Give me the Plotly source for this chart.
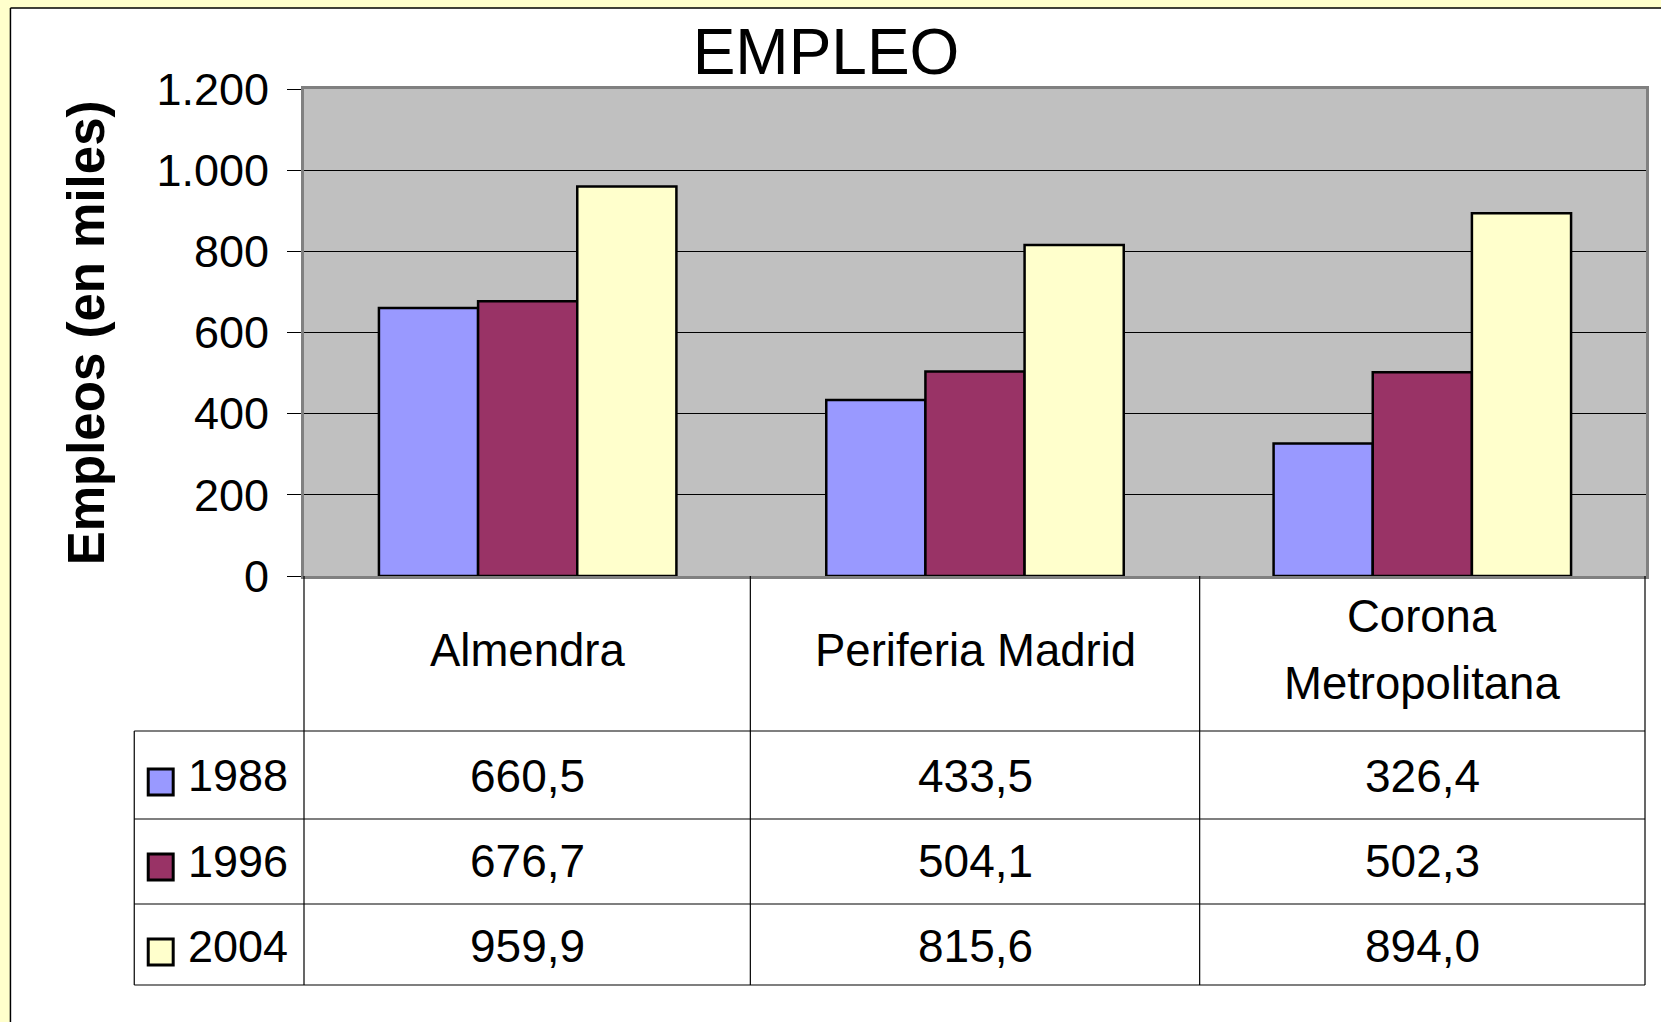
import plotly.graph_objects as go

categories = ["Almendra", "Periferia Madrid", "Corona Metropolitana"]
category_labels = ["Almendra", "Periferia Madrid", "Corona\nMetropolitana"]
years = ["1988", "1996", "2004"]
empleo_1988 = [660.5, 433.5, 326.4]
empleo_1996 = [676.7, 504.1, 502.3]
empleo_2004 = [959.9, 815.6, 894.0]
series = [empleo_1988, empleo_1996, empleo_2004]
colors = ["#9999FF", "#993366", "#FFFFCC"]
y_ticks = [0, 200, 400, 600, 800, 1000, 1200]

W, H = 1661, 1022
L, R, T, B = 304, 13, 89, 446
PW, PH = W - L - R, H - T - B
FONT = "Liberation Sans, Arial, sans-serif"


# pixel -> paper coords
def px(x):
    return (x - L) / PW


def py(y):
    return (H - B - y) / PH


fig = go.Figure()
for year, vals, c in zip(years, series, colors):
    fig.add_trace(go.Bar(
        name=year, x=categories, y=vals,
        marker=dict(color=c, line=dict(color="black", width=2.5)),
        showlegend=False,
    ))

shapes = []
# yellow frame outside the white chart area
shapes.append(dict(type="rect", xref="paper", yref="paper", x0=px(-5), x1=px(10), y0=py(H + 5), y1=py(-5),
                   fillcolor="#FFFFCC", line_width=0, layer="below"))
shapes.append(dict(type="rect", xref="paper", yref="paper", x0=px(-5), x1=px(W + 5), y0=py(8), y1=py(-5),
                   fillcolor="#FFFFCC", line_width=0, layer="below"))
shapes.append(dict(type="line", xref="paper", yref="paper", x0=px(10), x1=px(W + 5), y0=py(8), y1=py(8),
                   line=dict(color="black", width=1.5)))
shapes.append(dict(type="line", xref="paper", yref="paper", x0=px(10), x1=px(10), y0=py(8), y1=py(H + 5),
                   line=dict(color="black", width=1.5)))

# data table grid
tbl = dict(color="black", width=1.2)
for x in [304, 751, 1201, 1647]:
    shapes.append(dict(type="line", xref="paper", yref="paper", x0=px(x), x1=px(x), y0=py(576), y1=py(985), line=tbl))
shapes.append(dict(type="line", xref="paper", yref="paper", x0=px(134), x1=px(134), y0=py(731), y1=py(985), line=tbl))
for y in [731, 819, 904, 985]:
    shapes.append(dict(type="line", xref="paper", yref="paper", x0=px(134), x1=px(1647), y0=py(y), y1=py(y), line=tbl))

row_centers = [776, 861, 946]
annotations = []
for i, (year, vals, c) in enumerate(zip(years, series, colors)):
    yc = row_centers[i]
    shapes.append(dict(type="rect", xref="paper", yref="paper", x0=px(148), x1=px(173),
                       y0=py(yc + 19), y1=py(yc - 7), fillcolor=c, line=dict(color="black", width=3)))
    annotations.append(dict(text=year, xref="paper", yref="paper", x=px(186), y=py(yc),
                            xanchor="left", yanchor="middle", showarrow=False,
                            font=dict(size=45, color="black", family=FONT)))
    for cat, v in zip(categories, vals):
        annotations.append(dict(text=f"{v:.1f}".replace(".", ","), xref="x", yref="paper", x=cat, y=py(yc),
                                xanchor="center", yanchor="middle", showarrow=False,
                                font=dict(size=46, color="black", family=FONT)))

# category labels inside the table header row
for cat, lab in zip(categories, category_labels):
    lines = lab.split("\n")
    gap = 67
    start = 650 - gap * (len(lines) - 1) / 2
    for k, line in enumerate(lines):
        annotations.append(dict(text=line, xref="x", yref="paper", x=cat, y=py(start + k * gap),
                                xanchor="center", yanchor="middle", showarrow=False,
                                font=dict(size=45.5, color="black", family=FONT)))

annotations.append(dict(text="<b>Empleos (en miles)</b>", xref="paper", yref="paper", x=px(86), y=py(333),
                        xanchor="center", yanchor="middle", textangle=-90, showarrow=False,
                        font=dict(size=51, color="black", family=FONT)))

fig.update_layout(
    width=W, height=H,
    margin=dict(l=L, r=R, t=T, b=B),
    paper_bgcolor="white",
    plot_bgcolor="#C0C0C0",
    separators=",.",
    font=dict(family=FONT, color="black"),
    title=dict(text="EMPLEO", x=826 / W, xref="container", xanchor="center",
               y=1 - 51.5 / H, yanchor="middle", font=dict(size=64, color="black", family=FONT)),
    bargap=0.335, bargroupgap=0,
    barmode="group",
    shapes=shapes,
    annotations=annotations,
)
fig.update_xaxes(showticklabels=False, ticks="", showgrid=False, zeroline=False,
                 showline=True, linecolor="#808080", linewidth=3, mirror=True)
fig.update_yaxes(range=[0, 1200], tickvals=y_ticks, separatethousands=True,
                 ticks="outside", ticklen=14, tickcolor="black", tickwidth=1,
                 ticklabelstandoff=9, tickfont=dict(size=45, color="black", family=FONT),
                 showgrid=True, gridcolor="black", gridwidth=1, zeroline=False,
                 showline=True, linecolor="#808080", linewidth=3, mirror=True)

# page body has a default margin; drop it so the figure sits at the window origin
fig.write_html("out.html", config={"displayModeBar": False},
               post_script="document.body.style.margin='0';document.body.style.overflow='hidden';")
